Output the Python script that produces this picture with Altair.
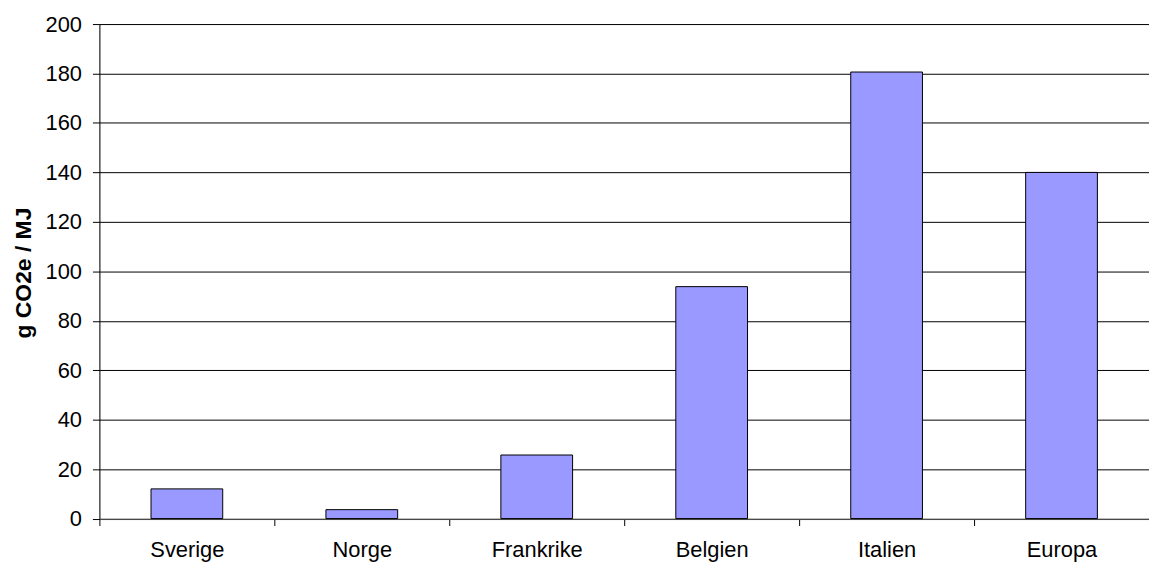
import altair as alt
import pandas as pd

categories = ["Sverige", "Norge", "Frankrike", "Belgien", "Italien", "Europa"]
values = [12.0, 3.6, 25.7, 93.8, 180.6, 140.0]
y_ticks = [0, 20, 40, 60, 80, 100, 120, 140, 160, 180, 200]

df = pd.DataFrame({"land": categories, "v": values})

FONT = "Liberation Sans"

bars = alt.Chart(df).mark_bar(
    color="#9999FF", stroke="#000000", strokeWidth=1,
    width=alt.RelativeBandSize(0.41),
).encode(
    x=alt.X(
        "land:N",
        sort=categories,
        scale=alt.Scale(paddingInner=0, paddingOuter=0),
        axis=alt.Axis(
            title=None,
            labelAngle=0,
            labelFont=FONT,
            labelFontSize=22,
            labelColor="#000000",
            labelPadding=14,
            tickBand="extent",
            ticks=True,
            tickSize=7,
            tickColor="#000000",
            domainColor="#808080",
            grid=False,
        ),
    ),
    y=alt.Y(
        "v:Q",
        scale=alt.Scale(domain=[0, 200], nice=False),
        axis=alt.Axis(
            title="g CO2e / MJ",
            values=y_ticks,
            labelFont=FONT,
            labelFontSize=22,
            labelColor="#000000",
            labelPadding=11,
            tickSize=7,
            tickColor="#000000",
            domainColor="#000000",
            grid=True,
            gridColor="#000000",
            gridOpacity=1,
            gridWidth=1,
            titleFont=FONT,
            titleFontSize=23,
            titleFontWeight="bold",
            titleColor="#000000",
            titleAngle=-90,
            titleAlign="center",
            titleBaseline="alphabetic",
            titleX=-69,
            titleY=250,
        ),
    ),
)

chart = bars.properties(
    width=1056,
    height=497.5,
    autosize=alt.AutoSizeParams(type="none"),
    padding={"left": 100, "top": 22.5, "right": 0, "bottom": 42},
).configure_view(stroke=None).configure(background="#ffffff")

chart.save("out.html", embed_options={"renderer": "svg", "actions": False})
